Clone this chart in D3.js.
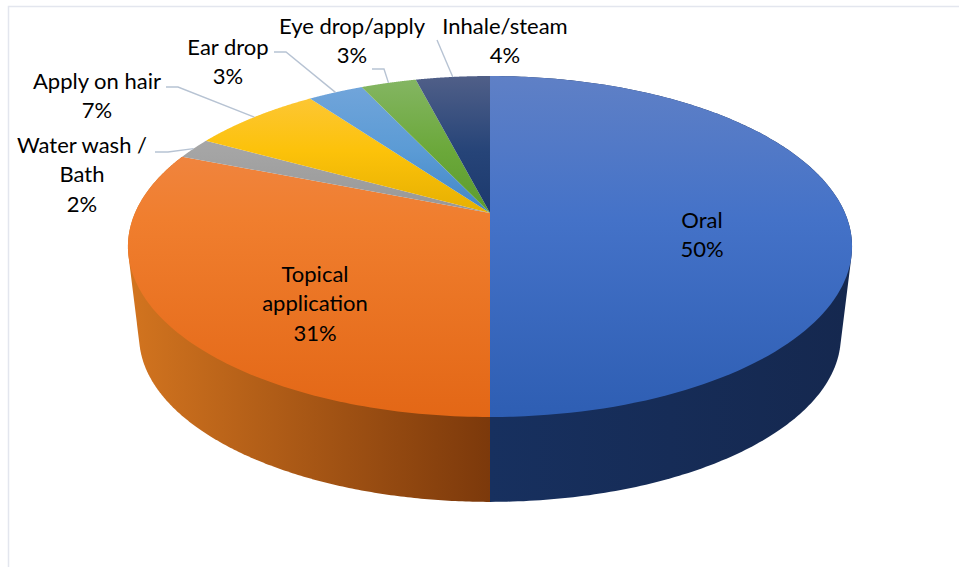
<!DOCTYPE html>
<html>
<head>
<meta charset="utf-8">
<script src="https://cdn.jsdelivr.net/npm/d3@7/dist/d3.min.js"></script>
<style>
  html, body { margin: 0; padding: 0; background: #fff; }
  svg { display: block; }
  text { font-family: Lato, "Open Sans", sans-serif; font-size: 22px; fill: #000; text-anchor: middle; }
</style>
</head>
<body>
<svg id="chart" width="959" height="567"></svg>
<script>
// Route of administration shares, clockwise from twelve o'clock
const categories = ["Oral", "Topical application", "Water wash / Bath", "Apply on hair", "Ear drop", "Eye drop/apply", "Inhale/steam"];
const shares = [50, 31, 2, 7, 3, 3, 4];
const labelLines = [["Oral"], ["Topical", "application"], ["Water wash /", "Bath"], ["Apply on hair"], ["Ear drop"], ["Eye drop/apply"], ["Inhale/steam"]];

// Slice colours: highlight at the far edge, base, shaded near edge
const topColours = [
  ["#5f80c6", "#4472c8", "#2e5eb3"],
  ["#f08c52", "#f07e2e", "#e36716"],
  ["#b0b0b0", "#a5a5a5", "#969696"],
  ["#fdc845", "#fcc20a", "#e4ae00"],
  ["#74a6db", "#5b9bd5", "#3f85c5"],
  ["#85b664", "#6ba83a", "#5a9a2c"],
  ["#505f88", "#264478", "#1b386c"]
];
const wallColours = [
  ["#17305f", "#15284f"],
  ["#d2741f", "#7c390b"]
];

// Label placement and leader elbows, by slice
const labelX = [702, 315, 82, 97, 228, 352, 505];
const labelY = [228, 282, 153, 89, 55, 34, 34];
const lineGap = 29.3;
const leaderElbows = [
  null, null,
  [[155, 152], [168, 152]],
  [[166, 87], [178, 87]],
  [[274, 52], [286, 52]],
  [[372, 69], [384, 69]],
  [[437, 40]]
];

const svg = d3.select("#chart");
const defs = svg.append("defs");
const format = d3.format(".0f");

// Perspective disc: the far edge is foreshortened, so the hub sits above the outline's middle
const tilt = 0.1965;
function disc(cx, cy, a, b) {
  return t => {
    const w = 1 + tilt * Math.cos(t);
    return [cx + a * Math.sin(t) / w, cy - b * Math.cos(t) / w];
  };
}
const hub = [490, 213];
const topRim = disc(hub[0], hub[1], 355, 163.9);
const baseRim = disc(490, 304, 344, 159);

const pie = d3.pie().sort(null).value(d => d);
const arcs = pie(shares);
const line = d3.line();
const sweep = (t0, t1, n) => d3.range(0, n + 1).map(i => t0 + (t1 - t0) * i / n);

// Chart frame
svg.append("path")
  .attr("d", line([[8.5, 567], [8.5, 6.5], [959, 6.5]]))
  .attr("fill", "none").attr("stroke", "#e3e6ee").attr("stroke-width", 1.5);

// Outer wall of the two slices that face the viewer: the hull of the upper and lower rims
const frontSlices = [0, 1];
frontSlices.forEach(i => {
  const id = "wall" + i;
  const g = defs.append("linearGradient").attr("id", id)
    .attr("gradientUnits", "userSpaceOnUse")
    .attr("x1", i === 0 ? 490 : 130).attr("x2", i === 0 ? 850 : 490)
    .attr("y1", 0).attr("y2", 0);
  g.append("stop").attr("offset", 0).attr("stop-color", wallColours[i][0]);
  g.append("stop").attr("offset", 1).attr("stop-color", wallColours[i][1]);
  const end = Math.min(arcs[i].endAngle, i === 1 ? 1.72 * Math.PI : Math.PI);
  const ts = sweep(arcs[i].startAngle, end, 240);
  const outline = d3.polygonHull([...ts.map(topRim), ...ts.map(baseRim)]);
  svg.append("path").attr("d", line(outline) + "Z").attr("fill", `url(#${id})`);
});

// Top face
arcs.forEach((a, i) => {
  const id = "face" + i;
  const g = defs.append("linearGradient").attr("id", id)
    .attr("gradientUnits", "userSpaceOnUse")
    .attr("x1", 0).attr("x2", 0).attr("y1", 76).attr("y2", 417);
  const stops = i < 2 ? [0, 0.42, 1] : [0, 0.22, 0.42];
  stops.forEach((o, k) => g.append("stop").attr("offset", o).attr("stop-color", topColours[i][k]));
  const rim = sweep(a.startAngle, a.endAngle, 120).map(topRim);
  svg.append("path")
    .attr("d", line([hub, ...rim]) + "Z")
    .attr("fill", `url(#${id})`);
});

// Leader lines run from each label to the middle of its slice's rim
arcs.forEach((a, i) => {
  if (!leaderElbows[i]) return;
  const end = topRim((a.startAngle + a.endAngle) / 2);
  svg.append("path")
    .attr("d", line([...leaderElbows[i], end]))
    .attr("fill", "none").attr("stroke", "#b7c3d3").attr("stroke-width", 1.4);
});

// Category and share labels
categories.forEach((c, i) => {
  const rows = [...labelLines[i], format(shares[i]) + "%"];
  const t = svg.append("text").attr("x", labelX[i]).attr("y", labelY[i]);
  rows.forEach((r, k) => t.append("tspan")
    .attr("x", labelX[i]).attr("dy", k ? lineGap : 0).text(r));
});
</script>
</body>
</html>
